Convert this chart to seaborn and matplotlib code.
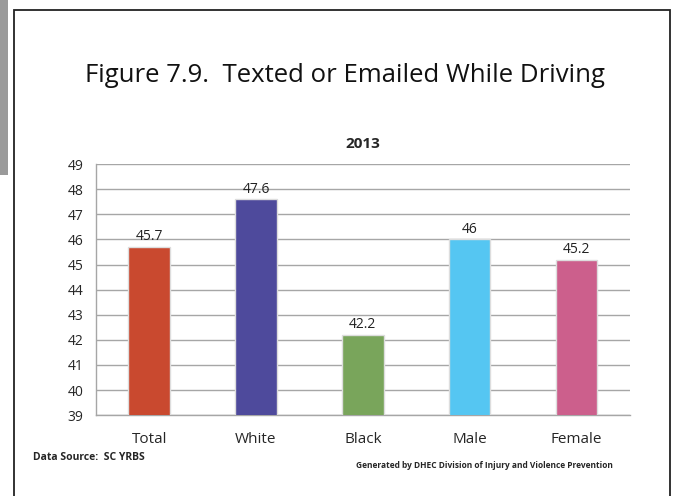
import matplotlib
matplotlib.use("Agg")
import matplotlib.pyplot as plt
import numpy as np
import pandas as pd
import seaborn as sns
from matplotlib.patches import Rectangle

categories = ["Total", "White", "Black", "Male", "Female"]
percent = [45.7, 47.6, 42.2, 46, 45.2]
value_labels = ["45.7", "47.6", "42.2", "46", "45.2"]
bar_colors = ["#C9492F", "#4E4A9C", "#79A55B", "#55C6F2", "#CC5F8C"]
y_ticks = list(range(39, 50))

sns.set_style("white")
plt.rcParams["font.family"] = ["Open Sans", "DejaVu Sans"]

df = pd.DataFrame({"group": categories, "pct": percent})

fig = plt.figure(figsize=(6.75, 4.96), dpi=100)
ax = fig.add_axes([0.142, 0.163, 0.791, 0.506])

# page decorations: gray tab on the left and the frame
fig.patches.append(Rectangle((0, 1 - 175 / 496), 8 / 675, 175 / 496,
                             transform=fig.transFigure, facecolor="#9A9A9A",
                             edgecolor="none"))
fig.patches.append(Rectangle((13.5 / 675, -0.05), (669.5 - 13.5) / 675, 1.05 - 10.5 / 496,
                             transform=fig.transFigure, facecolor="none",
                             edgecolor="#222222", linewidth=1.3))

sns.barplot(data=df, x="group", y="pct", hue="group", palette=bar_colors,
            saturation=1, legend=False, width=0.39, edgecolor="#DDDDDD",
            linewidth=1.0, ax=ax, zorder=3)

for cont, lab in zip(ax.containers, value_labels):
    ax.bar_label(cont, labels=[lab], padding=2, fontsize=10, color="#222222")

ax.set_ylim(39, 49)
ax.set_xlim(-0.5, 4.5)
ax.set_yticks(y_ticks)
ax.yaxis.grid(True, color="#A6A6A6", linewidth=1.0, zorder=0)
ax.set_axisbelow(True)
ax.set_xlabel("")
ax.set_ylabel("")

for side in ["top", "right"]:
    ax.spines[side].set_visible(False)
for side in ["left", "bottom"]:
    ax.spines[side].set_color("#A6A6A6")
    ax.spines[side].set_linewidth(1.0)

ax.tick_params(axis="y", length=5, color="#A6A6A6", labelsize=10, pad=4)
ax.tick_params(axis="x", which="major", length=0, labelsize=11, pad=12)
ax.set_xticks(np.arange(-0.5, 5, 1.0), minor=True)
ax.tick_params(axis="x", which="minor", length=5, color="#A6A6A6")

ax.set_title("2013", fontsize=11, fontweight="bold", pad=12)

fig.text(0.511, 1 - 75 / 496, "Figure 7.9.  Texted or Emailed While Driving",
         ha="center", va="center", fontsize=18.5, color="#111111")
fig.text(33 / 675, 1 - 457 / 496, "Data Source:  SC YRBS", ha="left",
         va="center", fontsize=7.5, fontweight="bold")
fig.text(613 / 675, 1 - 466 / 496,
         "Generated by DHEC Division of Injury and Violence Prevention",
         ha="right", va="center", fontsize=6, fontweight="bold")

fig.savefig("out.png", dpi=100)
